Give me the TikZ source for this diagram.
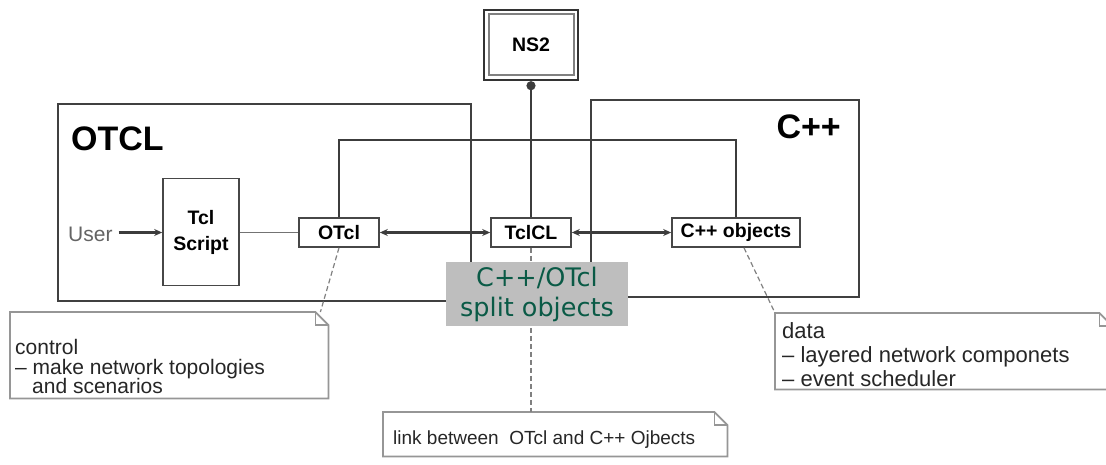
\documentclass[tikz,border=0pt]{standalone}
\usepackage{fontspec}
\setmainfont{Liberation Sans}
\newfontfamily\splitfont{DejaVu Sans}
\usetikzlibrary{arrows.meta}
\definecolor{linegray}{RGB}{60,60,60}
\definecolor{notegray}{RGB}{150,150,150}
\definecolor{splitgray}{RGB}{190,190,190}
\definecolor{splitgreen}{RGB}{10,90,70}
\definecolor{usergray}{RGB}{100,100,100}
\newcommand{\tightlines}{\setlength{\lineskiplimit}{-30pt}}
\begin{document}
\begin{tikzpicture}[x=1pt,y=-1pt,
  region/.style={draw=black!75, line width=2pt, inner sep=0pt},
  regtitle/.style={inner sep=0pt, font=\fontsize{34}{36}\selectfont\bfseries},
  nbox/.style={draw=black!72, line width=1.6pt, fill=white, inner sep=0pt, font=\fontsize{19.5}{26}\selectfont\bfseries},
  nsbox/.style={draw=black!80, line width=2.4pt, fill=white, inner sep=0pt, font=\fontsize{19.5}{22}\selectfont\bfseries},
  conn/.style={draw=linegray, line width=2.2pt},
  thinconn/.style={draw=black!55, line width=1.6pt},
  dashline/.style={draw=black!50, line width=1.2pt, dash pattern=on 5pt off 3pt},
  noteframe/.style={fill=white, inner sep=0pt},
  noteline/.style={draw=notegray, line width=1.8pt, line join=miter},
  notetext/.style={inner sep=0pt, text=black!85},
  splitbox/.style={fill=splitgray, inner sep=0pt, text=splitgreen, font=\splitfont\fontsize{25.5}{30}\selectfont},
  tipa/.style={-{Stealth[length=8pt,width=7pt]}},
  tipb/.style={{Stealth[length=8pt,width=7pt]}-{Stealth[length=8pt,width=7pt]}}
]
\useasboundingbox (0,0) rectangle (1106,464);
\clip (0,0) rectangle (1106,464);

% region frames
\node[region, minimum width=413pt, minimum height=197pt, anchor=north west] (otclreg) at (57,103) {};
\node[region, minimum width=268pt, minimum height=197pt, anchor=north west] (cppreg) at (590,99) {};
\node[regtitle, anchor=base west] (otcltitle) at (71,150) {OTCL};
\node[regtitle, anchor=base east] (cpptitle) at (841,138) {C++};

% notes (frames)
\node[noteframe, minimum width=318pt, minimum height=86pt, anchor=north west] (ctrl) at (10,312) {};
\node[noteframe, minimum width=337pt, minimum height=76pt, anchor=north west] (data) at (775,313) {};
\node[noteframe, minimum width=344pt, minimum height=44pt, anchor=north west] (link) at (383,412) {};
\foreach \n in {ctrl,data,link} {
  \draw[noteline] (\n.south west) -- (\n.north west) -- ([xshift=-13pt]\n.north east)
     -- ([yshift=-13pt]\n.north east) -- (\n.south east) -- cycle;
  \draw[noteline, line width=1.2pt] ([xshift=-13pt]\n.north east) |- ([yshift=-13pt]\n.north east);
}
\node[notetext, anchor=north west, align=left, font=\fontsize{21}{19.6}\selectfont\tightlines] (ctrltext) at (15,339)
  {control\\– make network topologies\\\hspace*{17pt}and scenarios};
\node[notetext, anchor=north west, align=left, font=\fontsize{22}{24}\selectfont\tightlines] (datatext) at (782,322)
  {data\\– layered network componets\\– event scheduler};
\node[notetext, anchor=base west, font=\fontsize{19}{22}\selectfont] (linktext) at (393,444)
  {link between\ \ OTcl and C++ Ojbects};

% main boxes
\node[nsbox, minimum width=94pt, minimum height=70pt] (ns2) at (531,45) {NS2};
\draw[black!50, line width=1.5pt] ([shift={(6,5)}]ns2.north west) rectangle ([shift={(-5,-6)}]ns2.south east);
\node[nbox, minimum width=76pt, minimum height=107pt, align=center] (script) at (201,232) {Tcl\\Script};
\node[nbox, minimum width=80pt, minimum height=29pt] (otcl) at (339,232.5) {OTcl};
\node[nbox, minimum width=80pt, minimum height=29pt] (tclcl) at (531,232.5) {TclCL};
\node[nbox, minimum width=128pt, minimum height=29pt] (cppobj) at (736,232.5) {C++ objects};
\node[inner sep=0pt, text=usergray, font=\fontsize{21}{24}\selectfont, anchor=base west] (user) at (68,241) {User};

% connectors
\coordinate (looptop) at (540,140);
\draw[conn] (otcl.north) |- (looptop) -| (cppobj.north);
\draw[conn, {Circle[length=9pt]}-] (ns2.south) -- (tclcl.north);
\draw[conn, tipa, shorten <=6pt] (user.east |- otcl.west) -- (script.west |- otcl.west);
\draw[thinconn] (script.east |- otcl.west) -- (otcl.west);
\draw[conn, tipb] (otcl.east) -- (tclcl.west);
\draw[conn, tipb] (tclcl.east) -- (cppobj.west);

% dashed note links
\draw[dashline] (otcl.south) -- ([xshift=-8pt]ctrl.north east);
\draw[dashline] (tclcl.south) -- (tclcl.south |- link.north);
\draw[dashline] ([xshift=8pt]cppobj.south) -- (data.north west);

% split objects label
\node[splitbox, minimum width=182pt, minimum height=64pt, align=center] (split) at (537,294) {C++/OTcl\\split objects};
\end{tikzpicture}
\end{document}
